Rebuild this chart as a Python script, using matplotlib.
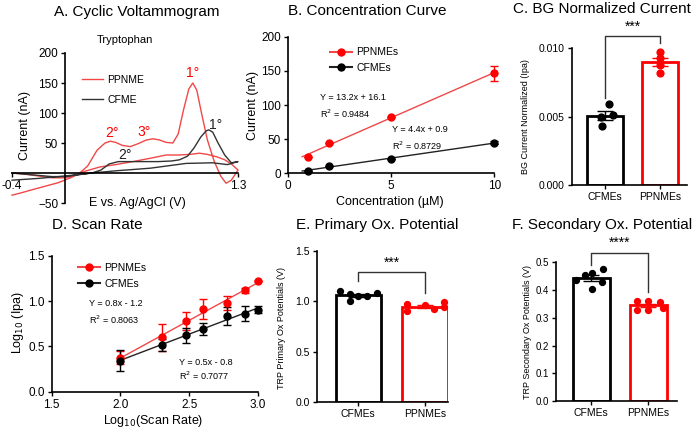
import numpy as np
import matplotlib.pyplot as plt
from matplotlib.lines import Line2D

plt.rcParams['font.family'] = ['Liberation Sans', 'DejaVu Sans']

# A. cyclic voltammogram (E in V, I in nA)
cv_red_fwd_e = [-0.40, -0.30, -0.20, -0.10, 0.00, 0.05, 0.11, 0.17, 0.24, 0.30, 0.34, 0.38, 0.43, 0.49,
                0.55, 0.61, 0.66, 0.71, 0.76, 0.81, 0.85, 0.89, 0.93, 0.96, 0.99, 1.03, 1.07, 1.12,
                1.17, 1.21, 1.25, 1.30]
cv_red_fwd_i = [0, -2, -5, -8, -8, -5, 0, 12, 38, 50, 53, 51, 46, 44, 49, 55, 57, 55, 51, 50, 65, 105,
                140, 150, 138, 95, 55, 20, -5, -17, -12, 5]
cv_red_rev_e = [1.30, 1.25, 1.20, 1.14, 1.07, 1.01, 0.94, 0.85, 0.76, 0.65, 0.51, 0.38, 0.26, 0.15,
                0.05, -0.05, -0.15, -0.25, -0.33, -0.40]
cv_red_rev_i = [5, 15, 22, 27, 31, 33, 31, 30, 30, 25, 19, 14, 10, 3, -7, -16, -22, -28, -33, -37]
cv_blk_fwd_e = [-0.40, -0.25, -0.10, 0.00, 0.10, 0.20, 0.27, 0.33, 0.40, 0.50, 0.60, 0.70, 0.80, 0.86,
                0.92, 0.97, 1.02, 1.06, 1.08, 1.11, 1.15, 1.20, 1.25, 1.30]
cv_blk_fwd_i = [0, -3, -6, -6, -3, 0, 5, 15, 19, 19, 19, 19, 20, 22, 28, 42, 60, 70, 72, 68, 50, 30, 17, 19]
cv_blk_rev_e = [1.30, 1.22, 1.11, 0.91, 0.64, 0.40, 0.20, 0.00, -0.20, -0.40]
cv_blk_rev_i = [19, 14, 17, 16, 8, 4, 0, -5, -9, -12]

# B. concentration curve
conc = [1, 2, 5, 10]
conc_pp = [24.3, 44.8, 82.9, 146.4]
conc_pp_err = [0, 0, 0, 11]
conc_cf = [3.8, 11.1, 20.5, 44.8]
conc_cf_err = [0, 0, 0, 2]

# C. BG normalized current
bg_cf = [0.0059, 0.0051, 0.0050, 0.0043]
bg_pp = [0.0097, 0.0093, 0.0088, 0.0082]

# D. scan rate
log_rate = [2.0, 2.301, 2.477, 2.602, 2.778, 2.903, 3.0]
sr_pp = [0.378, 0.60, 0.778, 0.915, 0.98, 1.119, 1.222]
sr_pp_err = [0.07, 0.15, 0.10, 0.11, 0.08, 0.03, 0.0]
sr_cf = [0.344, 0.519, 0.622, 0.693, 0.833, 0.863, 0.908]
sr_cf_err = [0.115, 0.065, 0.08, 0.065, 0.10, 0.08, 0.04]

# E / F. oxidation potentials
prim_cf = [1.10, 1.07, 1.00, 1.05, 1.05, 1.08]
prim_pp = [0.97, 0.90, 0.96, 0.92, 0.99, 0.94]
sec_cf = [0.435, 0.455, 0.46, 0.475, 0.405, 0.43]
sec_pp = [0.36, 0.36, 0.358, 0.328, 0.327, 0.335]

groups = ['CFMEs', 'PPNMEs']
RED = '#ff0000'
LRED = '#f04848'


def box(l, t, r, b):
    return [l / 700, 1 - b / 430, (r - l) / 700, (b - t) / 430]


def ftext(x, y, s, **kw):
    fig.text(x / 700, 1 - y / 430, s, **kw)


def style(ax, size):
    for side in ['top', 'right']:
        ax.spines[side].set_visible(False)
    for side in ['left', 'bottom']:
        ax.spines[side].set_linewidth(1.2)
    ax.tick_params(length=3, width=1, labelsize=size, pad=2)


fig = plt.figure(figsize=(7, 4.3), dpi=100)

# ---- A ----
ax = fig.add_axes(box(12, 53, 238, 203))
style(ax, 8.5)
ax.spines['left'].set_position(('data', 0))
ax.spines['bottom'].set_position(('data', 0))
ax.plot(cv_red_fwd_e + cv_red_rev_e, cv_red_fwd_i + cv_red_rev_i, color=LRED, lw=1, clip_on=False)
ax.plot(cv_blk_fwd_e + cv_blk_rev_e, cv_blk_fwd_i + cv_blk_rev_i, color='#333333', lw=1, clip_on=False)
ax.set_xlim(-0.4, 1.3)
ax.set_ylim(-50, 200)
ax.set_xticks([-0.4, 1.3], ['-0.4', '1.3'])
ax.set_yticks([-50, 50, 100, 150, 200])
ax.text(0.96, 160, '1°', color=RED, fontsize=10, ha='center')
ax.text(0.35, 60, '2°', color=RED, fontsize=10, ha='center')
ax.text(0.59, 62, '3°', color=RED, fontsize=10, ha='center')
ax.text(0.45, 24, '2°', color='#222222', fontsize=10, ha='center')
ax.text(1.13, 74, '1°', color='#222222', fontsize=10, ha='center')
ax.legend([Line2D([], [], color=LRED, lw=1), Line2D([], [], color='#333333', lw=1)], ['PPNME', 'CFME'],
          loc='upper left', bbox_to_anchor=(0.288, 0.89), frameon=False, fontsize=7.5,
          borderpad=0, handlelength=2.0, handletextpad=0.4, labelspacing=0.95)
ftext(137, 12, 'A. Cyclic Voltammogram', fontsize=11, ha='center', va='center')
ftext(125, 40, 'Tryptophan', fontsize=8, ha='center', va='center')
ftext(25, 125, 'Current (nA)', fontsize=9, rotation=90, ha='center', va='center')
ftext(137, 203, 'E vs. Ag/AgCl (V)', fontsize=9, ha='center', va='center')

# ---- B ----
ax = fig.add_axes(box(287.7, 36.7, 494.3, 173.3))
style(ax, 8.5)
xx = np.array([0.7, 10])
for y, e, c in [(conc_pp, conc_pp_err, RED), (conc_cf, conc_cf_err, 'black')]:
    k, b = np.polyfit(conc, y, 1)
    ax.plot(xx, k * xx + b, color=LRED if c == RED else '#222222', lw=1, clip_on=False)
    ax.errorbar(conc, y, yerr=e, fmt='o', color=c, ms=5, capsize=3, elinewidth=1, clip_on=False, zorder=3)
ax.set_xlim(0, 10)
ax.set_ylim(0, 200)
ax.set_xticks([0, 5, 10])
ax.set_yticks([0, 50, 100, 150, 200])
ax.legend([Line2D([], [], color=LRED, marker='o', mfc=RED, mec=RED, ms=5),
           Line2D([], [], color='#222222', marker='o', mfc='black', mec='black', ms=5)],
          ['PPNMEs', 'CFMEs'], loc='upper left', bbox_to_anchor=(0.18, 0.96), frameon=False,
          fontsize=7.5, borderpad=0, handlelength=2.1, handletextpad=0.4, labelspacing=0.55)
ftext(320, 97.7, 'Y = 13.2x + 16.1', fontsize=6.5, va='center')
ftext(320, 114.3, 'R$^2$ = 0.9484', fontsize=6.5, va='center')
ftext(391.7, 129.3, 'Y = 4.4x + 0.9', fontsize=6.5, va='center')
ftext(391.7, 145.3, 'R$^2$ = 0.8729', fontsize=6.5, va='center')
ftext(367, 11, 'B. Concentration Curve', fontsize=11, ha='center', va='center')
ftext(253, 105, 'Current (nA)', fontsize=9, rotation=90, ha='center', va='center')
ftext(390, 202, 'Concentration (µM)', fontsize=9, ha='center', va='center')


def bar_panel(ax, cf, pp, width, offs_cf, offs_pp, size):
    for i, (vals, c, offs) in enumerate([(cf, 'black', offs_cf), (pp, RED, offs_pp)]):
        v = np.array(vals)
        m = v.mean()
        sem = v.std(ddof=1) / np.sqrt(len(v))
        ax.bar(i, m, width=width, facecolor='white', edgecolor=c, linewidth=2, zorder=1)
        ax.errorbar(i, m, yerr=sem, color=c, capsize=6, elinewidth=1, capthick=1, zorder=3)
        ax.scatter(i + np.array(offs), v, s=size, color=c, zorder=4, clip_on=False)
    ax.set_xticks([0, 1], groups)
    ax.tick_params(axis='x', length=3, labelsize=7.5)


def bracket(ax, ytop, yl, yr, stars, ystar):
    ax.plot([0, 0, 1, 1], [yl, ytop, ytop, yr], color='#333333', lw=1, clip_on=False)
    ax.text(0.5, ystar, stars, ha='center', va='center', fontsize=10)


# ---- C ----
ax = fig.add_axes(box(571.7, 48.3, 686.7, 185))
style(ax, 7.5)
bar_panel(ax, bg_cf, bg_pp, 0.67, [0.07, 0.14, -0.08, -0.05], [0, 0, 0, 0], 24)
ax.set_xlim(-0.605, 1.485)
ax.set_ylim(0, 0.010)
ax.set_yticks([0, 0.005, 0.010], ['0.000', '0.005', '0.010'])
bracket(ax, 0.01092, 0.00635, 0.01037, '***', 0.0116)
ftext(602, 9, 'C. BG Normalized Current', fontsize=11, ha='center', va='center')
ftext(526, 117, 'BG Current Normalized (Ipa)', fontsize=6.5, rotation=90, ha='center', va='center')

# ---- D ----
ax = fig.add_axes(box(51.7, 256, 258, 391.7))
style(ax, 8.5)
xx = np.array([2.0, 3.0])
for y, e, c in [(sr_pp, sr_pp_err, RED), (sr_cf, sr_cf_err, 'black')]:
    k, b = np.polyfit(log_rate, y, 1)
    ax.plot(xx, k * xx + b, color=LRED if c == RED else '#222222', lw=1)
    ax.errorbar(log_rate, y, yerr=e, fmt='o', color=c, ms=5, capsize=3, elinewidth=1, clip_on=False, zorder=3)
ax.set_xlim(1.5, 3.0)
ax.set_ylim(0, 1.5)
ax.set_xticks([1.5, 2.0, 2.5, 3.0])
ax.set_yticks([0, 0.5, 1.0, 1.5])
ax.legend([Line2D([], [], color=LRED, marker='o', mfc=RED, mec=RED, ms=5),
           Line2D([], [], color='#222222', marker='o', mfc='black', mec='black', ms=5)],
          ['PPNMEs', 'CFMEs'], loc='upper left', bbox_to_anchor=(0.103, 0.99), frameon=False,
          fontsize=7.5, borderpad=0, handlelength=2.1, handletextpad=0.4, labelspacing=0.6)
ftext(89, 303, 'Y = 0.8x - 1.2', fontsize=6.5, va='center')
ftext(89, 320, 'R$^2$ = 0.8063', fontsize=6.5, va='center')
ftext(179, 362.7, 'Y = 0.5x - 0.8', fontsize=6.5, va='center')
ftext(179, 375.7, 'R$^2$ = 0.7077', fontsize=6.5, va='center')
ftext(97, 225, 'D. Scan Rate', fontsize=11, ha='center', va='center')
ftext(18, 323, 'Log$_{10}$ (Ipa)', fontsize=9, rotation=90, ha='center', va='center')
ftext(153, 421, 'Log$_{10}$(Scan Rate)', fontsize=9, ha='center', va='center')

# ---- E ----
ax = fig.add_axes(box(316.7, 250.7, 448, 402.3))
style(ax, 7.5)
bar_panel(ax, prim_cf, prim_pp, 0.68, [-0.27, -0.12, -0.12, 0.0, 0.13, 0.28],
          [-0.27, -0.27, 0.0, 0.13, 0.28, 0.28], 18)
ax.set_xlim(-0.624, 1.345)
ax.set_ylim(0, 1.5)
ax.set_yticks([0, 0.5, 1.0, 1.5])
bracket(ax, 1.293, 1.20, 1.085, '***', 1.376)
ftext(377.5, 225, 'E. Primary Ox. Potential', fontsize=11, ha='center', va='center')
ftext(282, 328, 'TRP Primary Ox Potentials (V)', fontsize=6.5, rotation=90, ha='center', va='center')

# ---- F ----
ax = fig.add_axes(box(556, 262.3, 676.7, 401))
style(ax, 7)
bar_panel(ax, sec_cf, sec_pp, 0.65, [-0.26, -0.11, 0.02, 0.2, 0.02, 0.18],
          [-0.2, 0.0, 0.2, -0.2, 0.0, 0.26], 18)
ax.set_xlim(-0.62, 1.5)
ax.set_ylim(0, 0.5)
ax.set_yticks([0, 0.1, 0.2, 0.3, 0.4, 0.5])
bracket(ax, 0.535, 0.49, 0.394, '****', 0.569)
ftext(602.5, 225, 'F. Secondary Ox. Potential', fontsize=11, ha='center', va='center')
ftext(528, 332, 'TRP Secondary Ox Potentials (V)', fontsize=6.5, rotation=90, ha='center', va='center')

fig.savefig('out.png', dpi=100)
